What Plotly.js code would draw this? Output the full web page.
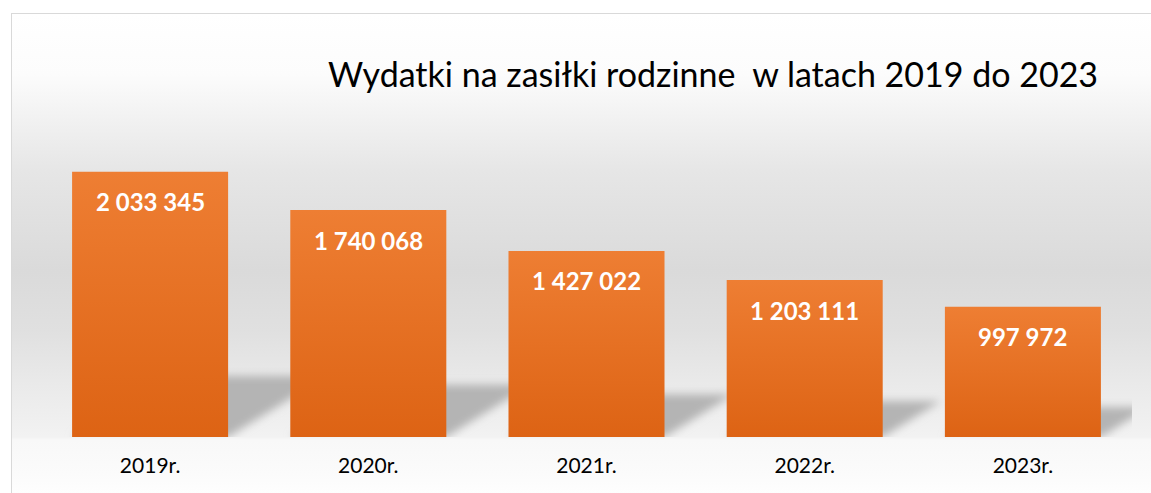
<!DOCTYPE html>
<html>
<head>
<meta charset="utf-8">
<script src="https://cdn.plot.ly/plotly-3.0.1.min.js"></script>
<style>
  html, body { margin: 0; padding: 0; background: #ffffff; overflow: hidden; }
  #wrap { position: relative; width: 1151px; height: 493px; overflow: hidden; }
  #bg {
    position: absolute; left: 11px; top: 13px; width: 1200px; height: 500px;
    border-left: 1.5px solid #d9d9d9; border-top: 1.5px solid #d9d9d9;
    background: linear-gradient(to bottom,
      #ffffff 0px, #fcfcfc 60px, #f1f1f1 107px, #e6e6e6 157px,
      #dadada 257px, #e0e0e0 317px, #eaeaea 372px, #f2f2f2 423px,
      #f8f8f8 426px, #fbfbfb 460px, #fefefe 480px);
  }
  #chart { position: absolute; left: 0; top: 0; width: 1151px; height: 493px; }
</style>
</head>
<body>
<div id="wrap">
  <div id="bg"></div>
  <div id="chart"></div>
</div>
<script>
// ---- data ----
const years = ["2019r.", "2020r.", "2021r.", "2022r.", "2023r."];
const values = [2033345, 1740068, 1427022, 1203111, 997972];
const chartTitle = "Wydatki na zasiłki rodzinne\u00a0 w latach 2019 do 2023";

// ---- helpers ----
function fmt(v) {
  return String(v).replace(/\B(?=(\d{3})+(?!\d))/g, " ");
}
const xs = years.map((_, i) => i);
const W = 1151, H = 493;
const margin = { l: 41, r: 19, t: 111, b: 56, pad: 0 };
const yMax = 2500000;
const barWidth = 0.715;
const pxPerY = (H - margin.t - margin.b) / yMax;
const pxPerX = (W - margin.l - margin.r) / years.length;

// perspective floor shadows derived from bar values
const shapes = values.map((v, i) => {
  const h = 0.23 * v;
  const dx = (h * pxPerY / 0.62) / pxPerX;
  const xl = i - barWidth / 2, xr = i + barWidth / 2;
  return {
    type: "path", xref: "x", yref: "y", layer: "below",
    path: `M ${xl},0 L ${xr},0 L ${xr + dx},${h} L ${xl + dx},${h} Z`,
    fillcolor: "#b4b4b4", line: { width: 0 }
  };
});

const annotations = values.map((v, i) => ({
  x: i, y: v, xref: "x", yref: "y",
  text: fmt(v), showarrow: false,
  yanchor: "middle", yshift: -30,
  font: { family: "Lato, 'Open Sans', sans-serif", size: 24, color: "#ffffff", weight: "bold" }
}));

const trace = {
  type: "bar",
  x: xs, y: values,
  width: barWidth,
  marker: { color: "#E8722A", line: { width: 0 } },
  hoverinfo: "none"
};

const layout = {
  width: W, height: H,
  margin: margin,
  paper_bgcolor: "rgba(0,0,0,0)",
  plot_bgcolor: "rgba(0,0,0,0)",
  showlegend: false,
  title: {
    text: chartTitle,
    font: { family: "Lato, 'Open Sans', sans-serif", size: 34, color: "#000000" },
    x: 713 / W, xanchor: "center", xref: "container",
    y: 1 - 75 / H, yanchor: "middle", yref: "container"
  },
  xaxis: {
    range: [-0.5, 4.5], tickmode: "array", tickvals: xs, ticktext: years,
    showgrid: false, zeroline: false, showline: false, ticks: "",
    ticklabelstandoff: 14,
    tickfont: { family: "Lato, 'Open Sans', sans-serif", size: 21, color: "#000000" },
    fixedrange: true
  },
  yaxis: {
    range: [0, yMax], visible: false, showgrid: false, zeroline: false, fixedrange: true
  },
  shapes: shapes,
  annotations: annotations
};

Plotly.newPlot("chart", [trace], layout, { displayModeBar: false, staticPlot: true }).then(() => {
  const svg = document.querySelector("#chart .main-svg");
  const ns = "http://www.w3.org/2000/svg";
  let defs = svg.querySelector("defs");
  if (!defs) { defs = document.createElementNS(ns, "defs"); svg.insertBefore(defs, svg.firstChild); }
  // bar gradient
  const lg = document.createElementNS(ns, "linearGradient");
  lg.setAttribute("id", "barGrad");
  lg.setAttribute("x1", "0"); lg.setAttribute("y1", "0");
  lg.setAttribute("x2", "0"); lg.setAttribute("y2", "1");
  [["0", "#EE7E33"], ["1", "#DD6314"]].forEach(([o, c]) => {
    const s = document.createElementNS(ns, "stop");
    s.setAttribute("offset", o); s.setAttribute("stop-color", c);
    lg.appendChild(s);
  });
  defs.appendChild(lg);
  // shadow blur
  const f = document.createElementNS(ns, "filter");
  f.setAttribute("id", "shBlur");
  f.setAttribute("x", "-30%"); f.setAttribute("y", "-30%");
  f.setAttribute("width", "160%"); f.setAttribute("height", "160%");
  const gb = document.createElementNS(ns, "feGaussianBlur");
  gb.setAttribute("stdDeviation", "4");
  f.appendChild(gb);
  defs.appendChild(f);

  document.querySelectorAll("#chart .barlayer .point path").forEach(p => {
    p.style.fill = "url(#barGrad)";
  });
  document.querySelectorAll("#chart .shapelayer path").forEach(p => {
    p.style.filter = "url(#shBlur)";
    p.setAttribute("filter", "url(#shBlur)");
  });
});
</script>
</body>
</html>
